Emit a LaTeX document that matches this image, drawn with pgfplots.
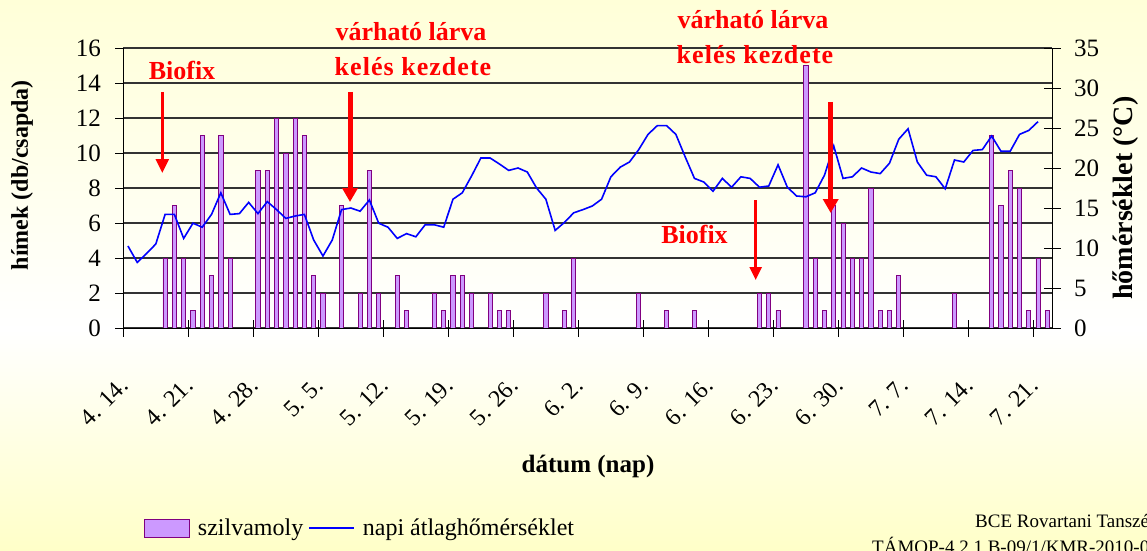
\documentclass[border=0pt]{standalone}
\usepackage{fontspec}
\setmainfont{Liberation Serif}
\usepackage{pgfplots}
\pgfplotsset{compat=1.18}
\usetikzlibrary{arrows.meta}
\definecolor{barfill}{HTML}{CC99FF}
\definecolor{barline}{HTML}{800080}
\definecolor{bgtop}{HTML}{FFFFD8}
\definecolor{bgbot}{HTML}{FFFFC8}
\definecolor{lineblue}{HTML}{0000FF}
\definecolor{annred}{HTML}{FF0000}
\begin{document}
\begin{tikzpicture}
\useasboundingbox (0pt,0pt) rectangle (1147pt,550pt);
\shade[top color=bgtop, bottom color=white] (0pt,220pt) rectangle (1147pt,550pt);
\shade[top color=white, bottom color=bgbot] (0pt,0pt) rectangle (1147pt,220pt);

\begin{axis}[
  at={(123.3pt,222pt)}, anchor=south west,
  scale only axis, width=928.7pt, height=280pt,
  xmin=-0.5, xmax=99.5, ymin=0, ymax=16,
  axis y line*=left, axis x line*=bottom,
  axis line style={black, line width=0.9pt},
  xtick=\empty,
  ytick={0,2,...,16},
  tick align=outside, major tick length=8pt,
  major tick style={black, line width=0.9pt},
  ymajorgrids, grid style={black!80, line width=1.1pt},
  /pgf/number format/assume math mode=true,
  yticklabel style={font=\fontsize{25}{30}\selectfont, xshift=-11pt},
  xlabel={dátum (nap)},
  every axis x label/.style={at={(axis description cs:0.5004,-0.493)}, anchor=center, font=\fontsize{25}{30}\selectfont\bfseries},
  ylabel={hímek (db/csapda)},
  every axis y label/.style={at={(axis description cs:-0.109,0.546)}, anchor=center, rotate=90, font=\fontsize{24}{28}\selectfont\bfseries},
]
\addplot[ybar, bar width=4.2pt, fill=barfill, draw=barline, line width=0.8pt] coordinates {
(4,4) (5,7) (6,4) (7,1) (8,11) (9,3) (10,11) (11,4) (14,9) (15,9) (16,12) (17,10) (18,12) (19,11) (20,3) (21,2) (23,7) (25,2) (26,9) (27,2) (29,3) (30,1) (33,2) (34,1) (35,3) (36,3) (37,2) (39,2) (40,1) (41,1) (45,2) (47,1) (48,4) (55,2) (58,1) (61,1) (68,2) (69,2) (70,1) (73,15) (74,4) (75,1) (76,7) (77,6) (78,4) (79,4) (80,8) (81,1) (82,1) (83,3) (89,2) (93,11) (94,7) (95,9) (96,8) (97,1) (98,4) (99,1)
};
\end{axis}

\begin{axis}[
  at={(123.3pt,222pt)}, anchor=south west,
  scale only axis, width=928.7pt, height=280pt,
  xmin=-0.5, xmax=99.5, ymin=0, ymax=35,
  axis y line*=right, axis x line*=bottom,
  axis line style={black, line width=0.9pt},
  ytick={0,5,...,35},
  xtick={0,7,...,98},
  xticklabels={4. 14.,4. 21.,4. 28.,5. 5.,5. 12.,5. 19.,5. 26.,6. 2.,6. 9.,6. 16.,6. 23.,6. 30.,7. 7.,7. 14.,7. 21.},
  minor xtick={-0.5,6.5,...,97.5},
  tick align=center, major tick length=17pt, minor tick length=17pt,
  major tick style={black, line width=0.9pt},
  minor tick style={black, line width=1pt},
  major x tick style={draw=none},
  /pgf/number format/assume math mode=true,
  yticklabel style={font=\fontsize{25}{30}\selectfont, xshift=10pt},
  xticklabel style={font=\fontsize{24}{28}\selectfont, yshift=-43pt, xshift=-1.5pt, rotate=45, anchor=east},
  ylabel={hőmérséklet (°C)},
  every axis y label/.style={at={(axis description cs:1.0797,0.464)}, anchor=center, rotate=90, font=\fontsize{28}{32}\selectfont\bfseries},
  legend columns=2,
  legend style={at={(axis description cs:0.255,-0.714)}, anchor=center, draw=none, fill=none, font=\fontsize{24}{28}\selectfont,
    /tikz/every odd column/.append style={column sep=6pt},
    /tikz/every even column/.append style={column sep=3pt}},
]
\addlegendimage{legend image code/.code={\draw[fill=barfill, draw=barline, line width=0.8pt] (0pt,-9pt) rectangle (45pt,9pt);}}
\addlegendentry{szilvamoly}
\addplot[lineblue, line width=1.6pt, legend image code/.code={\draw[lineblue, line width=1.6pt] (0pt,0pt) -- (45pt,0pt);}] coordinates {
(0,10.25) (1,8.2) (2,9.3) (3,10.5) (4,14.2) (5,14.2) (6,11.2) (7,13.1) (8,12.6) (9,14.2) (10,16.9) (11,14.2) (12,14.3) (13,15.7) (14,14.3) (15,15.8) (16,14.8) (17,13.7) (18,14.0) (19,14.2) (20,11.0) (21,9.0) (22,11.0) (23,14.8) (24,15.0) (25,14.6) (26,16.0) (27,13.1) (28,12.6) (29,11.2) (30,11.8) (31,11.4) (32,12.9) (33,12.9) (34,12.6) (35,16.1) (36,16.9) (37,19.0) (38,21.25) (39,21.25) (40,20.5) (41,19.7) (42,20.0) (43,19.5) (44,17.5) (45,16.1) (46,12.2) (47,13.2) (48,14.4) (49,14.8) (50,15.25) (51,16.1) (52,18.9) (53,20.1) (54,20.75) (55,22.3) (56,24.2) (57,25.3) (58,25.3) (59,24.2) (60,21.4) (61,18.7) (62,18.25) (63,17.1) (64,18.7) (65,17.6) (66,18.9) (67,18.7) (68,17.6) (69,17.75) (70,20.4) (71,17.6) (72,16.5) (73,16.4) (74,16.9) (75,19.1) (76,22.75) (77,18.7) (78,18.9) (79,20.0) (80,19.5) (81,19.3) (82,20.6) (83,23.6) (84,24.9) (85,20.75) (86,19.1) (87,18.9) (88,17.4) (89,21.0) (90,20.75) (91,22.2) (92,22.3) (93,24.0) (94,22.1) (95,22.1) (96,24.2) (97,24.7) (98,25.8)
};
\addlegendentry{napi átlaghőmérséklet}
\end{axis}

\begin{scope}[font=\fontsize{26}{30}\selectfont\bfseries]
\node[anchor=base, text=annred, inner sep=0pt] at (182pt,470pt) {Biofix};
\node[anchor=base, text=annred, inner sep=0pt] at (411pt,509pt) {várható lárva};
\node[anchor=base, text=annred, inner sep=0pt] at (413pt,474pt) {\addfontfeature{LetterSpace=4}kelés kezdete};
\node[anchor=base, text=annred, inner sep=0pt] at (753pt,521pt) {várható lárva};
\node[anchor=base, text=annred, inner sep=0pt] at (755pt,486pt) {\addfontfeature{LetterSpace=4}kelés kezdete};
\node[anchor=base, text=annred, inner sep=0pt] at (694.5pt,307pt) {Biofix};
\end{scope}
\draw[annred, line width=2.5pt, -{Triangle[length=14pt, width=13pt]}] (162.3pt,458pt) -- (162.3pt,377pt);
\draw[annred, line width=5pt, -{Triangle[length=14pt, width=15pt]}] (350pt,458pt) -- (350pt,348pt);
\draw[annred, line width=2.5pt, -{Triangle[length=13pt, width=12pt]}] (755.7pt,350pt) -- (755.7pt,270pt);
\draw[annred, line width=5pt, -{Triangle[length=14pt, width=15pt]}] (830.7pt,448pt) -- (830.7pt,337pt);

\node[anchor=base west, font=\fontsize{19}{22}\selectfont, inner sep=0pt] at (975pt,23pt) {BCE Rovartani Tanszék};
\node[anchor=base west, font=\fontsize{19}{22}\selectfont, inner sep=0pt] at (872pt,-3pt) {TÁMOP-4.2.1.B-09/1/KMR-2010-0005};
\end{tikzpicture}
\end{document}
